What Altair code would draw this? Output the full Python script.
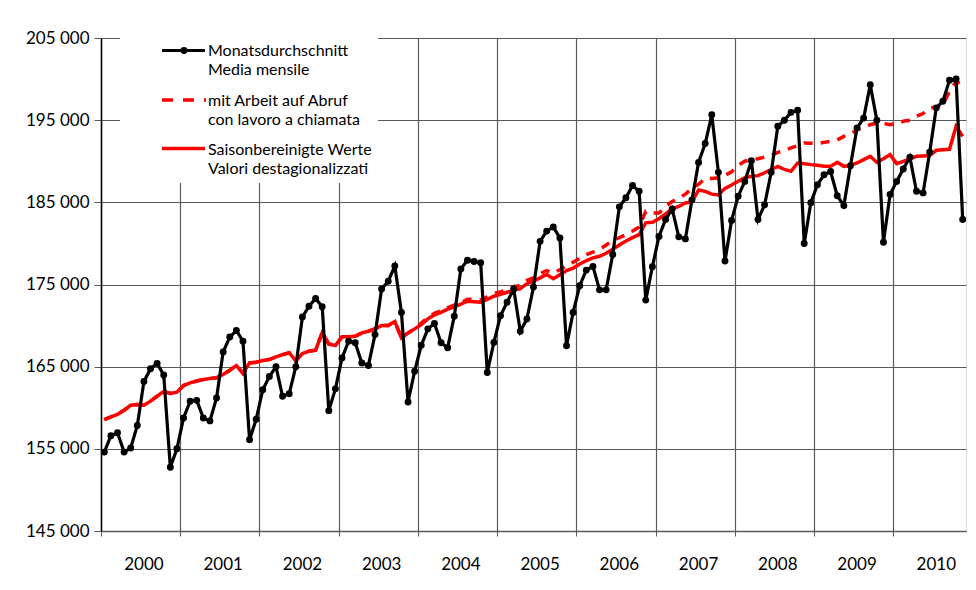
import altair as alt
import pandas as pd

# Monthly series, Jan 2000 .. Nov 2010 (131 months)
monthly = [
    154600, 156600, 156950, 154600, 155100, 157850, 163200, 164750, 165400, 164000, 152750, 155000,
    158750, 160800, 160900, 158750, 158400, 161200, 166800, 168600, 169400, 168100, 156100, 158600,
    162200, 163800, 165000, 161400, 161700, 165000, 171050, 172350, 173300, 172300, 159650, 162300,
    166050, 168100, 167900, 165450, 165150, 168900, 174450, 175400, 177250, 171600, 160700, 164450,
    167600, 169600, 170250, 167900, 167300, 171150, 176900, 177950, 177800, 177650, 164300, 167950,
    171200, 172850, 174450, 169300, 170800, 174700, 180250, 181500, 182000, 180650, 167550, 171600,
    174850, 176750, 177200, 174350, 174350, 178650, 184450, 185550, 187050, 186350, 173100, 177150,
    180850, 182900, 184200, 180800, 180550, 185300, 189850, 192150, 195650, 188650, 177850, 182800,
    185750, 187550, 190050, 182900, 184700, 188650, 194250, 195000, 195950, 196200, 180000, 184950,
    187150, 188350, 188750, 185800, 184600, 189450, 194050, 195250, 199300, 195000, 180150, 185950,
    187550, 189050, 190500, 186350, 186150, 191100, 196500, 197300, 199850, 200000, 182900,
]

seasonal_adj = [
    158550, 158900, 159200, 159700, 160300, 160400, 160300, 160800, 161400, 162000, 161750, 161900,
    162700, 163030, 163250, 163450, 163550, 163640, 164040, 164560, 165140, 164200, 165460, 165540,
    165750, 165870, 166190, 166470, 166700, 165700, 166600, 166880, 167000, 169150, 167750, 167570,
    168650, 168650, 168700, 169110, 169310, 169600, 170000, 170000, 170500, 168500, 169110, 169600,
    170120, 170820, 171300, 171620, 172000, 172280, 172600, 172960, 172900, 172840, 173200, 173570,
    173800, 174060, 174300, 174500, 175100, 175400, 175800, 176210, 175700, 176200, 176700, 177000,
    177500, 177900, 178240, 178430, 178800, 179300, 179800, 180300, 180700, 181070, 182500, 182570,
    183000, 183600, 184200, 184500, 184930, 185050, 186500, 186340, 186000, 185900, 186700, 187100,
    187560, 188000, 188160, 188250, 188600, 189000, 189380, 189000, 188770, 189790, 189700, 189590,
    189500, 189400, 189380, 189870, 189380, 189500, 189790, 190200, 190600, 189870, 190300, 190810,
    189710, 189990, 190300, 190600, 190650, 190700, 191330, 191400, 191450, 194250, 193030,
]

on_call = [
    158550, 158900, 159200, 159700, 160300, 160400, 160300, 160800, 161400, 162000, 161750, 161900,
    162700, 163030, 163250, 163450, 163550, 163640, 164040, 164560, 165140, 164200, 165460, 165540,
    165750, 165870, 166190, 166470, 166700, 165700, 166600, 166880, 167000, 169150, 167750, 167570,
    168650, 168650, 168700, 169110, 169310, 169600, 170000, 170000, 170500, 168500, 169110, 169600,
    170300, 171000, 171500, 171800, 172200, 172500, 172800, 173200, 173200, 173100, 173500, 173900,
    174100, 174400, 174700, 174900, 175500, 175800, 176300, 176700, 176400, 176800, 177300, 177700,
    178200, 178640, 178950, 179250, 179800, 180380, 180700, 181070, 181500, 182000, 183900, 183700,
    183700, 184500, 185100, 185500, 186000, 186700, 187200, 187900, 187900, 188000, 188300, 188700,
    189500, 190000, 190200, 190300, 190500, 190700, 191080, 191300, 191620, 191900, 192230, 192200,
    192150, 192300, 192420, 192600, 193030, 193300, 193840, 194100, 194450, 194660, 194600, 194450,
    194600, 194860, 195000, 195470, 195800, 196480, 196600, 196890, 198500, 199720, 199320,
]

years = [2000, 2001, 2002, 2003, 2004, 2005, 2006, 2007, 2008, 2009, 2010]
y_ticks = [145000, 155000, 165000, 175000, 185000, 195000, 205000]

legend_lines = [
    "Monatsdurchschnitt", "Media mensile",
    "mit Arbeit auf Abruf", "con lavoro a chiamata",
    "Saisonbereinigte Werte", "Valori destagionalizzati",
]

n = len(monthly)
df = pd.DataFrame({
    "i": list(range(n)),
    "monthly": monthly,
    "sa": seasonal_adj,
    "oncall": on_call,
})
year_df = pd.DataFrame({"year": [str(y) for y in years],
                        "pos": [12 * k + 6 for k in range(len(years))]})

W, H = 865, 493
FONT = "Lato"
GRID = "#5a5a5a"

x_scale = alt.Scale(domain=[-0.5, n - 0.5], nice=False, zero=False)
y_scale = alt.Scale(domain=[145000, 205000], nice=False, zero=False)

x_axis = alt.Axis(values=[12 * k - 0.5 for k in range(len(years))], labels=False, title=None,
                  grid=True, gridColor=GRID, gridWidth=1.2, tickColor=GRID, tickSize=5,
                  domainColor=GRID, domainWidth=1.5)
y_axis = alt.Axis(values=y_ticks, title=None, grid=True, gridColor=GRID, gridWidth=1.2,
                  tickColor=GRID, tickSize=7, domainColor="#000000", domainWidth=1.5,
                  labelFont=FONT, labelFontSize=17, labelColor="#000000", labelPadding=5,
                  labelExpr="replace(format(datum.value, ','), ',', ' ')")

base = alt.Chart(df)

dashed = base.mark_line(color="#ff0000", strokeWidth=3.5, strokeDash=[9, 8]).encode(
    x=alt.X("i:Q", scale=x_scale, axis=x_axis),
    y=alt.Y("oncall:Q", scale=y_scale, axis=y_axis),
)
solid = base.mark_line(color="#ff0000", strokeWidth=3.5).encode(
    x=alt.X("i:Q", scale=x_scale), y=alt.Y("sa:Q", scale=y_scale))
black_line = base.mark_line(color="#000000", strokeWidth=3.2).encode(
    x=alt.X("i:Q", scale=x_scale), y=alt.Y("monthly:Q", scale=y_scale))
black_pts = base.mark_point(filled=True, color="#000000", size=48, opacity=1).encode(
    x=alt.X("i:Q", scale=x_scale), y=alt.Y("monthly:Q", scale=y_scale))

year_text = alt.Chart(year_df).mark_text(font=FONT, fontSize=17, color="#000000",
                                         baseline="middle", align="center").encode(
    x=alt.X("pos:Q", scale=x_scale), y=alt.value(H + 34), text="year:N")

one = df.head(1)

# legend box (white, hides grid lines)
box = alt.Chart(one).mark_rect(color="#ffffff").encode(
    x=alt.value(19), x2=alt.value(277), y=alt.value(-2), y2=alt.value(145))

leg_black = alt.Chart(one).mark_rule(color="#000000", strokeWidth=3).encode(
    x=alt.value(61), x2=alt.value(104), y=alt.value(12.5))
leg_dot = alt.Chart(one).mark_point(filled=True, color="#000000", size=48, opacity=1).encode(
    x=alt.value(83), y=alt.value(12.5))
leg_dash = alt.Chart(one).mark_rule(color="#ff0000", strokeWidth=3.5, strokeDash=[11, 10]).encode(
    x=alt.value(61), x2=alt.value(105), y=alt.value(62))
leg_solid = alt.Chart(one).mark_rule(color="#ff0000", strokeWidth=3.5).encode(
    x=alt.value(61), x2=alt.value(104), y=alt.value(110.5))

line_y = [13, 32, 63, 82, 112, 131]
leg_texts = []
for txt, yy in zip(legend_lines, line_y):
    leg_texts.append(
        alt.Chart(pd.DataFrame({"label": [txt]})).mark_text(
            font=FONT, fontSize=16, color="#000000", align="left", baseline="middle"
        ).encode(x=alt.value(107), y=alt.value(yy), text="label:N")
    )

chart = alt.layer(
    dashed, solid, black_line, black_pts, box,
    leg_black, leg_dot, leg_dash, leg_solid, *leg_texts, year_text,
).properties(
    width=W, height=H,
    autosize=alt.AutoSizeParams(type="none"),
    padding={"left": 93, "top": 30, "right": 2, "bottom": 45},
).configure_view(stroke=None).configure(background="#ffffff")

chart.save("out.html", embed_options={"renderer": "svg", "actions": False})
